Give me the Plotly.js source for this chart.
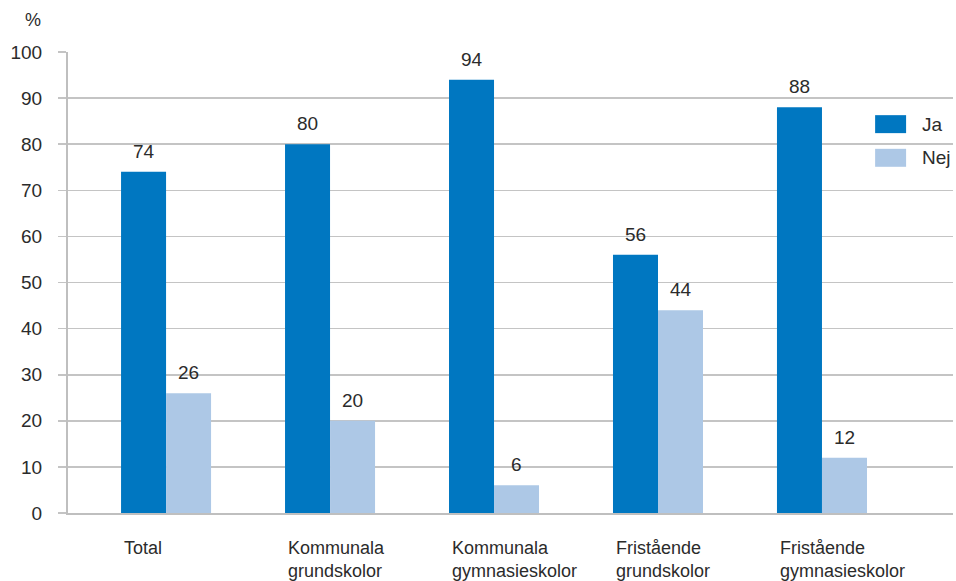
<!DOCTYPE html>
<html>
<head>
<meta charset="utf-8">
<script src="https://cdn.plot.ly/plotly-3.0.1.min.js"></script>
<style>html,body{margin:0;padding:0;background:#fff;}#chart{width:956px;height:581px;}</style>
</head>
<body>
<div id="chart"></div>
<script>
const categories = ["Total", "Kommunala<br>grundskolor", "Kommunala<br>gymnasieskolor", "Fristående<br>grundskolor", "Fristående<br>gymnasieskolor"];
const seriesNames = ["Ja", "Nej"];
const jaValues = [74, 80, 94, 56, 88];
const nejValues = [26, 20, 6, 44, 12];
const yTicks = [0, 10, 20, 30, 40, 50, 60, 70, 80, 90, 100];

const colors = ["#0077c1", "#adc8e6"];
const textColor = "#2b2b2b";
const fontFam = "'Liberation Sans', Arial, sans-serif";
const idx = categories.map((c, i) => i);
const bargap = 0.451;
const barW = (1 - bargap) / 2;

const traces = [jaValues, nejValues].map((vals, k) => ({
  type: "bar",
  name: seriesNames[k],
  x: idx,
  y: vals,
  marker: {color: colors[k]},
  hoverinfo: "skip",
  showlegend: false
}));

const annotations = [{
  text: "%", xref: "paper", yref: "paper", x: -0.04, y: 1.07,
  xanchor: "center", yanchor: "middle", showarrow: false,
  font: {family: fontFam, size: 18, color: textColor}
}];
// value labels above bars
[jaValues, nejValues].forEach((vals, k) => {
  vals.forEach((v, i) => {
    annotations.push({
      text: String(v), xref: "x", yref: "y",
      x: i + (k === 0 ? -barW / 2 : barW / 2), y: v,
      xanchor: "center", yanchor: "bottom", yshift: 8, showarrow: false,
      font: {family: fontFam, size: 19, color: textColor}
    });
  });
});
categories.forEach((c, i) => {
  annotations.push({
    text: c, xref: "x", yref: "paper", x: i, y: -0.05,
    xanchor: "left", yanchor: "top", align: "left", xshift: -44,
    showarrow: false,
    font: {family: fontFam, size: 18, color: textColor}
  });
});

const shapes = [];
const legendY = [[0.824, 0.863], [0.751, 0.790]];
seriesNames.forEach((n, k) => {
  shapes.push({type: "rect", xref: "paper", yref: "paper", x0: 0.912, x1: 0.947,
    y0: legendY[k][0], y1: legendY[k][1], fillcolor: colors[k], line: {width: 0}});
  annotations.push({text: n, xref: "paper", yref: "paper", x: 0.963,
    y: (legendY[k][0] + legendY[k][1]) / 2, xanchor: "left", yanchor: "middle",
    showarrow: false, font: {family: fontFam, size: 19, color: textColor}});
});

const layout = {
  width: 956, height: 581,
  margin: {l: 68, r: 3, t: 52, b: 68},
  paper_bgcolor: "#fff", plot_bgcolor: "#fff",
  barmode: "group", bargap: bargap, bargroupgap: 0,
  xaxis: {
    type: "linear", range: [-0.598, 4.799],
    showticklabels: false, showgrid: false, zeroline: false,
    showline: true, linecolor: "#bfbfbf", linewidth: 2, ticks: ""
  },
  yaxis: {
    range: [0, 100], tickvals: yTicks, ticktext: yTicks.map(String),
    showgrid: true, gridcolor: "#c4c4c4", gridwidth: 1.6,
    zeroline: false, showline: true, linecolor: "#bfbfbf", linewidth: 2,
    ticks: "outside", ticklen: 8, tickwidth: 1.6, tickcolor: "#c4c4c4",
    ticklabelstandoff: 12,
    tickfont: {family: fontFam, size: 19, color: textColor}
  },
  annotations: annotations,
  shapes: shapes,
  showlegend: false
};

Plotly.newPlot("chart", traces, layout, {staticPlot: true});
</script>
</body>
</html>
